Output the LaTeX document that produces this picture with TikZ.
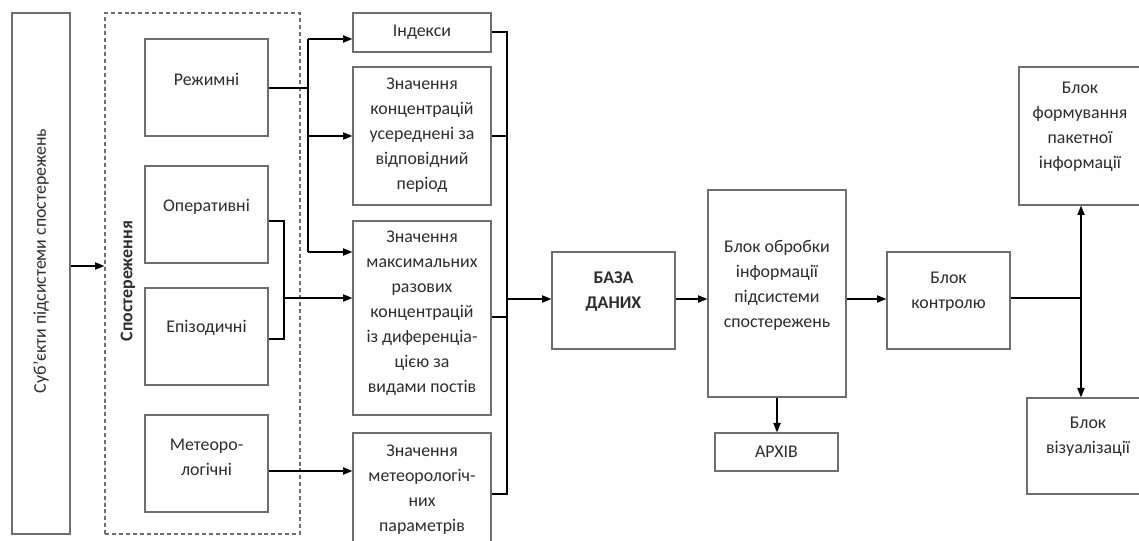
\documentclass[tikz,border=0pt]{standalone}
\usepackage{fontspec}
\setmainfont{Carlito}
\usetikzlibrary{arrows.meta,fit,calc}
\definecolor{boxgray}{RGB}{110,110,110}
\definecolor{txtgray}{RGB}{45,45,45}
\begin{document}
\begin{tikzpicture}[x=0.75pt,y=-0.75pt,
  box/.style={draw=boxgray, line width=1pt, inner sep=0pt},
  dbox/.style={draw=boxgray, line width=0.95pt, dash pattern=on 3pt off 2.2pt, inner sep=0pt},
  txt/.style={align=center, font=\fontsize{13.4}{18.75}\selectfont, text=txtgray, inner sep=0pt},
  wire/.style={draw=black, line width=0.8pt},
  arr/.style={wire, -{Triangle[length=7pt,width=5.5pt]}},
]
\useasboundingbox[fill=white] (0,0) rectangle (1139,541);

% boxes
\node[box, fit={(12,13)(70,534)}] (subj) {};
\node[dbox, fit={(105,13)(300,534)}] (obs) {};
\node[box, fit={(145,39)(268,136)}] (rezh) {};
\node[box, fit={(145,166)(268,263)}] (oper) {};
\node[box, fit={(145,288)(268,385)}] (epiz) {};
\node[box, fit={(145,415)(268,512)}] (meteo) {};
\node[box, fit={(353,13)(491,52)}] (idx) {};
\node[box, fit={(353,67)(491,205)}] (avg) {};
\node[box, fit={(353,221)(491,415)}] (maxc) {};
\node[box, fit={(353,433)(491,548)}] (mpar) {};
\node[box, fit={(552,252)(675,349)}] (db) {};
\node[box, fit={(708,190)(846,397)}] (proc) {};
\node[box, fit={(715,433)(838,471)}] (arch) {};
\node[box, fit={(887,252)(1010,349)}] (ctrl) {};
\node[box, fit={(1019,67)(1140,205)}] (form) {};
\node[box, fit={(1027,398)(1150,494)}] (vis) {};

% texts
\node[txt, rotate=90] (subj-t) at (41,261) {Суб’єкти підсистеми спостережень};
\node[txt, rotate=90, font=\fontsize{13.4}{18.75}\selectfont\bfseries] (obs-t) at (128,281) {Спостереження};
\node[txt] (rezh-t) at (206.5,79.5) {Режимні};
\node[txt] (oper-t) at (206.5,207) {Оперативні};
\node[txt] (epiz-t) at (206.5,328) {Епізодичні};
\node[txt] (meteo-t) at (206.5,457) {Метеоро-\\логічні};
\node[txt] (idx-t) at (422,32) {Індекси};
\node[txt] (avg-t) at (422,135) {Значення\\концентрацій\\усереднені за\\відповідний\\період};
\node[txt] (maxc-t) at (422,313) {Значення\\максимальних\\разових\\концентрацій\\із диференціа-\\цією за\\видами постів};
\node[txt] (mpar-t) at (422,489.5) {Значення\\метеорологіч-\\них\\параметрів};
\node[txt, font=\fontsize{13.4}{18.75}\selectfont\bfseries] (db-t) at (613.5,291.5) {БАЗА\\ДАНИХ};
\node[txt] (proc-t) at (777,285.5) {Блок обробки\\інформації\\підсистеми\\спостережень};
\node[txt] (arch-t) at (776.5,452) {АРХІВ};
\node[txt] (ctrl-t) at (948.5,292) {Блок\\контролю};
\node[txt] (form-t) at (1080,127) {Блок\\формування\\пакетної\\інформації};
\node[txt] (vis-t) at (1088,437) {Блок\\візуалізації};

% junction coordinates
\coordinate (ys) at (0,266);
\coordinate (rz) at (308,88);
\coordinate (b1) at (308,39);
\coordinate (b2) at (308,136);
\coordinate (b3) at (308,252);
\coordinate (m1) at (284,221);
\coordinate (m2) at (284,339);
\coordinate (m3) at (284,298);
\coordinate (mt) at (300,471);
\coordinate (r1) at (507,32);
\coordinate (r2) at (507,136);
\coordinate (r3) at (507,317);
\coordinate (r4) at (507,494);
\coordinate (r5) at (507,299);
\coordinate (jn) at (1081,298);

% connectors
\draw[arr] (subj.east |- ys) -- (obs.west |- ys);
\draw[wire] (rezh.east |- rz) -- (rz);
\draw[wire] (b1) -- (b3);
\draw[arr] (b1) -- (idx.west |- b1);
\draw[arr] (b2) -- (avg.west |- b2);
\draw[arr] (b3) -- (maxc.west |- b3);
\draw[wire] (oper.east |- m1) -- (m1) -- (m2) -- (epiz.east |- m2);
\draw[arr] (m3) -- (maxc.west |- m3);
\draw[arr] (meteo.east |- mt) -- (mpar.west |- mt);
\draw[wire] (idx.east |- r1) -- (r1) -- (r4) -- (mpar.east |- r4);
\draw[wire] (avg.east |- r2) -- (r2);
\draw[wire] (maxc.east |- r3) -- (r3);
\draw[arr] (r5) -- (db.west |- r5);
\draw[arr] (db.east |- r5) -- (proc.west |- r5);
\draw[arr] (proc.south) -- (proc.south |- arch.north);
\draw[arr] (proc.east |- r5) -- (ctrl.west |- r5);
\draw[wire] (ctrl.east |- jn) -- (jn);
\draw[arr] (jn) -- (jn |- form.south);
\draw[arr] (jn) -- (jn |- vis.north);
\end{tikzpicture}
\end{document}
